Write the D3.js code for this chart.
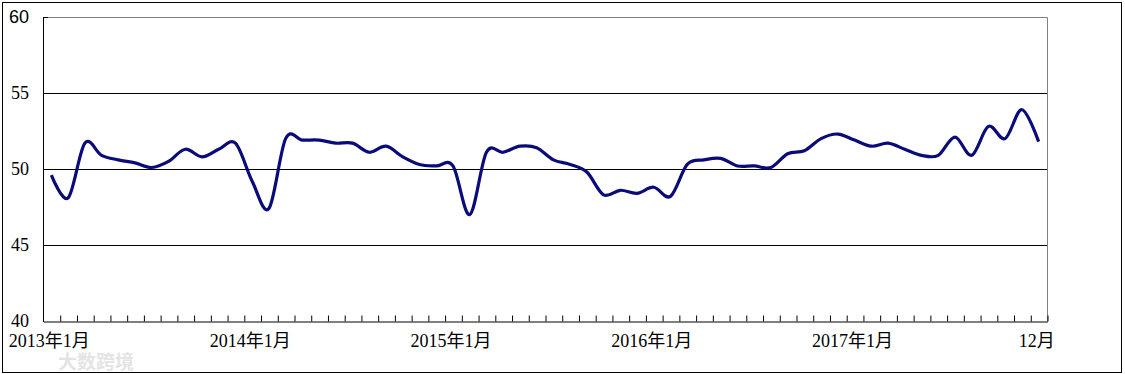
<!DOCTYPE html>
<html>
<head>
<meta charset="utf-8">
<script src="https://cdn.jsdelivr.net/npm/d3@7"></script>
<style>
  body { margin: 0; background: #fff; }
  svg { display: block; }
</style>
</head>
<body>
<div id="Chart"></div>
<script>
// monthly values, 2013-01 .. 2017-12
const values2013 = [49.6, 48.1, 51.7, 50.9, 50.6, 50.4, 50.1, 50.5, 51.3, 50.8, 51.3, 51.7];
const values2014 = [49.2, 47.4, 52.0, 51.9, 51.9, 51.7, 51.7, 51.1, 51.5, 50.8, 50.3, 50.2];
const values2015 = [50.2, 47.0, 51.1, 51.1, 51.5, 51.4, 50.6, 50.3, 49.8, 48.3, 48.6, 48.4];
const values2016 = [48.8, 48.2, 50.3, 50.6, 50.7, 50.2, 50.2, 50.1, 51.0, 51.2, 52.0, 52.3];
const values2017 = [51.9, 51.5, 51.7, 51.3, 50.9, 50.9, 52.1, 50.9, 52.8, 52.0, 53.9, 51.8];

const xLabels = ["2013年1月", "2014年1月", "2015年1月", "2016年1月", "2017年1月", "12月"];
const xLabelIndex = [0, 12, 24, 36, 48, 59];
const yTicks = [40, 45, 50, 55, 60];

const DATA = [].concat(values2013, values2014, values2015, values2016, values2017);

const CHART_WIDTH = 1125;
const CHART_HEIGHT = 374;
const plot = {left: 43, right: 1047, top: 17, bottom: 321};

const x = d3.scaleLinear().domain([0, DATA.length]).range([plot.left, plot.right]);
const y = d3.scaleLinear().domain([40, 60]).range([plot.bottom, plot.top]);

const svg = d3.select("#Chart")
    .append("svg")
    .attr("width", CHART_WIDTH)
    .attr("height", CHART_HEIGHT);

// outer frame
svg.append("rect")
    .attr("x", 2.5).attr("y", 2.5)
    .attr("width", 1119).attr("height", 370)
    .attr("fill", "#fff")
    .attr("stroke", "#000");

// watermark (faint, behind everything)
svg.append("text")
    .attr("x", 58).attr("y", 369)
    .style("font-family", "'Noto Sans CJK SC', sans-serif")
    .style("font-size", "19px")
    .style("font-weight", "bold")
    .attr("fill", "#e4e4e4")
    .text("大数跨境");

// gridlines 45..55
svg.append("g")
    .selectAll("line")
    .data(yTicks.filter(d => d > 40 && d < 60))
    .join("line")
    .attr("x1", plot.left).attr("x2", plot.right)
    .attr("y1", d => Math.round(y(d)) + 0.5).attr("y2", d => Math.round(y(d)) + 0.5)
    .attr("stroke", "#000");

// plot area top / right border (gray)
svg.append("path")
    .attr("d", `M${plot.left + 5},${plot.top + 0.5}H${plot.right + 0.5}V${plot.bottom}`)
    .attr("fill", "none")
    .attr("stroke", "#808080");
svg.append("line")
    .attr("x1", plot.left).attr("x2", plot.left + 5)
    .attr("y1", plot.top + 0.5).attr("y2", plot.top + 0.5)
    .attr("stroke", "#000");

// x axis with inward ticks at month boundaries
const xAxis = d3.axisBottom(x)
    .tickValues(d3.range(1, DATA.length + 1))
    .tickSize(-6)
    .tickSizeOuter(0)
    .tickFormat("");
svg.append("g")
    .attr("transform", `translate(0.5,${plot.bottom + 0.5})`)
    .call(xAxis)
    .call(g => g.select(".domain").attr("stroke", "#000"))
    .call(g => g.selectAll(".tick line").attr("stroke", "#000"));

// y axis line
svg.append("line")
    .attr("x1", plot.left + 0.5).attr("x2", plot.left + 0.5)
    .attr("y1", plot.top).attr("y2", plot.bottom + 1)
    .attr("stroke", "#000");

// y labels
svg.append("g")
    .selectAll("text")
    .data(yTicks)
    .join("text")
    .attr("x", 29)
    .attr("y", d => y(d))
    .attr("dy", "0.36em")
    .attr("text-anchor", "end")
    .style("font-family", d => d === 60 ? "'Liberation Sans', Arial, sans-serif" : "'Liberation Serif', 'Times New Roman', serif")
    .style("font-size", "18px")
    .attr("fill", "#000")
    .text(d => d);

// x labels
svg.append("g")
    .selectAll("text")
    .data(xLabels)
    .join("text")
    .attr("x", (d, i) => x(xLabelIndex[i] + 0.5) - 2)
    .attr("y", 347)
    .attr("text-anchor", "middle")
    .style("font-family", "'Liberation Serif', 'Noto Sans CJK SC', serif")
    .style("font-size", "18px")
    .attr("fill", "#000")
    .text(d => d);

// series line
const line = d3.line()
    .x((d, i) => x(i + 0.5))
    .y(d => y(d))
    .curve(d3.curveCatmullRom.alpha(0));

svg.append("path")
    .datum(DATA)
    .attr("d", line)
    .attr("fill", "none")
    .attr("stroke", "#0a0a78")
    .attr("stroke-width", 3.2)
    .attr("stroke-linejoin", "round")
    .attr("stroke-linecap", "butt");
</script>
</body>
</html>
